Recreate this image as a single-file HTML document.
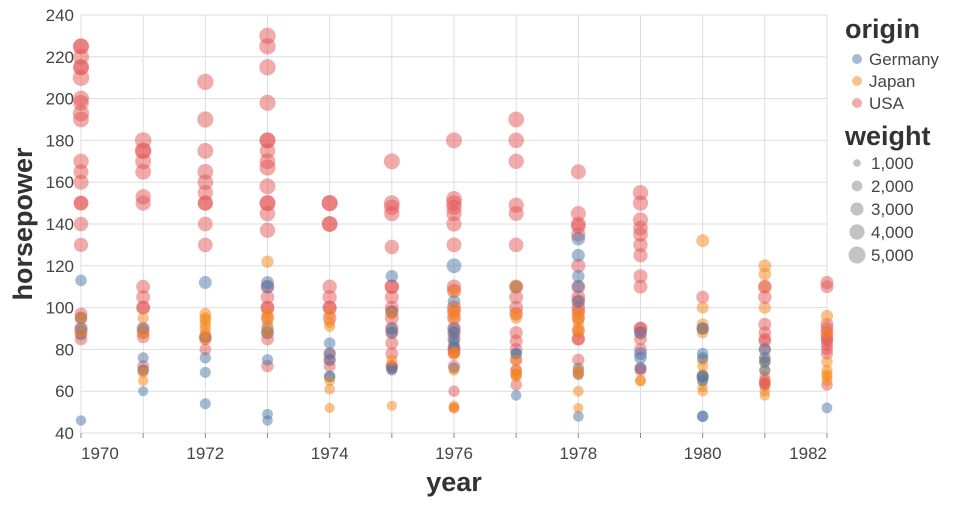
<!DOCTYPE html>
<html><head><meta charset="utf-8"><style>
body{margin:0;background:#fff;width:960px;height:500px;overflow:hidden;font-family:"Liberation Sans",sans-serif}
</style></head><body>
<svg id="chart" width="960" height="500" xmlns="http://www.w3.org/2000/svg"></svg>
<script>
const years=[1970,1971,1972,1973,1974,1975,1976,1977,1978,1979,1980,1981,1982];
const yTicks=[40,60,80,100,120,140,160,180,200,220,240];
const xLabelYears=[1970,1972,1974,1976,1978,1980,1982];
const origins=["Germany","Japan","USA"];
const legendWeights=[1000,2000,3000,4000,5000];
// rows: year|origin|hp:weight ...
const rows=[
"1970|USA|225:4400 225:4300 220:4500 215:4400 215:4300 210:4700 200:4400 198:4300 193:4600 190:4300 170:4100 165:3900 160:4000 150:3800 150:3700 140:3600 130:3500 97:2800 95:2900 90:3200 88:3000 85:2800",
"1970|Germany|113:2300 95:2400 90:2300 87:2200 46:1900",
"1970|Japan|95:2300 88:2200",
"1971|USA|180:4700 175:4600 175:4500 170:4400 165:4300 153:4100 150:4000 110:3300 105:3400 100:3300 100:3200 90:3000 88:2900 86:2800 72:2400 70:2300",
"1971|Germany|90:2300 76:2100 70:2200 60:1800",
"1971|Japan|95:2200 88:2100 69:2100 65:1900",
"1972|USA|208:4600 190:4500 175:4400 165:4300 160:4200 155:4100 150:4000 150:3900 140:3800 130:3700 86:2800 85:2700 80:2400",
"1972|Germany|112:2900 86:2400 76:2200 69:2100 54:2100",
"1972|Japan|97:2400 95:2300 94:2300 92:2200 90:2200 88:2100 85:2100",
"1973|USA|230:4600 225:4700 215:4600 198:4500 180:4400 180:4300 175:4200 170:4300 167:4500 158:4400 150:4400 150:4300 145:4200 137:4000 110:3300 105:3200 100:3300 100:3200 95:3000 88:2900 85:2800 72:2700",
"1973|Germany|112:2900 110:2800 90:2700 88:2600 75:2200 49:2000 46:1900",
"1973|Japan|122:2600 97:2400 95:2300 92:2300 88:2200",
"1974|USA|150:4500 150:4400 140:4300 140:4200 110:3600 105:3500 100:3400 100:3300 95:3200 78:2800 75:2600 72:2500",
"1974|Germany|83:2300 78:2200 75:2400 67:2300 67:2200",
"1974|Japan|97:2300 93:2200 91:2100 65:2000 61:2000 52:1800",
"1975|USA|170:4400 150:4300 148:4200 145:4100 129:3600 110:3600 110:3500 105:3400 100:3300 98:3200 95:3300 90:3200 88:3000 83:2900 78:2800 72:2600 72:2500 71:2500",
"1975|Germany|115:2700 98:2500 90:2400 88:2300 71:2100 70:2000",
"1975|Japan|97:2200 75:2100 53:1800",
"1976|USA|180:4400 152:4300 150:4200 148:4100 145:4100 140:4000 130:3800 110:3600 108:3500 100:3400 98:3300 95:3300 90:3200 88:3100 85:3000 81:2900 80:2800 79:2800 78:2700 72:2600 60:2200 52:2000",
"1976|Germany|120:3800 103:2800 90:2600 88:2400 85:2300 83:2200 81:2200 71:2100",
"1976|Japan|108:2600 100:2500 97:2400 95:2300 79:2200 78:2100 70:2000 53:1900 52:1800",
"1977|USA|190:4300 180:4200 170:4100 149:4000 145:3900 130:3700 110:3500 105:3400 100:3300 97:3200 88:3000 84:2900 80:2800 75:2700 70:2500 68:2400 63:2300",
"1977|Germany|110:2700 78:2300 78:2200 58:1900",
"1977|Japan|110:2700 97:2400 95:2300 75:2200 70:2100 68:2000 67:2000",
"1978|USA|165:3900 145:3900 140:3800 139:3700 135:3600 120:3500 110:3400 105:3400 103:3300 100:3300 98:3200 95:3100 89:3000 85:3000 85:2900 75:2600 69:2400",
"1978|Germany|133:3200 125:2900 115:2700 110:2600 103:2600 71:2200 68:2100 48:2000",
"1978|Japan|97:2500 95:2400 93:2300 90:2200 88:2200 70:2100 68:2000 60:2000 52:1800",
"1979|USA|155:4100 150:4000 142:3900 138:3800 135:3700 130:3600 125:3500 115:3400 110:3300 90:3200 90:3100 88:3000 85:2900 80:2800 71:2600 70:2500",
"1979|Germany|88:2700 78:2900 76:2700 71:2300",
"1979|Japan|65:2100 65:2000",
"1980|USA|105:2800 90:2700",
"1980|Japan|132:2900 100:2400 92:2400 90:2300 88:2300 75:2200 72:2100 68:2100 67:2000 65:2000 62:1900 60:1900",
"1980|Germany|90:2600 78:2300 76:2200 67:2700 67:2500 65:2200 48:2300 48:2100",
"1981|Japan|120:2900 116:2800 110:2700 100:2600 75:2300 74:2200 70:2100 67:2000 63:2000 60:1900 58:1900",
"1981|USA|110:3300 105:3200 92:2900 88:2800 85:2700 84:2800 80:2600 65:2500 64:2400 63:2300",
"1981|Germany|80:2600 76:2400 74:2300 70:2200",
"1982|USA|112:3000 110:2900 92:2900 90:2800 88:2800 86:2700 85:2700 84:2600 82:2600 80:2500 78:2500 63:2300",
"1982|Japan|96:2600 88:2400 74:2300 70:2200 68:2100 67:2100 65:2000",
"1982|Germany|52:2000"
];
const colors={Germany:"#4c78a8",Japan:"#f58518",USA:"#e45756"};
const svg=document.getElementById("chart");
const NS="http://www.w3.org/2000/svg";
const L=81,R=827,T=15,B=433;
const x=y=>L+(y-1970)/(1982-1970)*(R-L);
const yS=v=>B-(v-40)/(240-40)*(B-T);
const rS=w=>8.5*Math.sqrt(w/5000);
function mk(tag,attrs,parent){const e=document.createElementNS(NS,tag);for(const k in attrs)e.setAttribute(k,attrs[k]);(parent||svg).appendChild(e);return e;}
const grid=mk("g",{});


yTicks.forEach(t=>{const l=mk("line",{x1:L,x2:R,y1:yS(t),y2:yS(t),stroke:"#ddd","stroke-width":1},grid);


const tx=mk("text",{x:L-7,y:yS(t)+6,"text-anchor":"end","font-size":17,fill:"#444"});


tx.textContent=t;});
years.forEach(yr=>{const l=mk("line",{x1:x(yr),x2:x(yr),y1:T,y2:B,stroke:"#ddd","stroke-width":1},grid);


const tk=mk("line",{x1:x(yr),x2:x(yr),y1:B,y2:B+5,stroke:"#888"});

});
xLabelYears.forEach((yr,i)=>{const anchor=i===0?"start":(i===xLabelYears.length-1?"end":"middle");
const tx=mk("text",{x:x(yr),y:B+26,"text-anchor":anchor,"font-size":17,fill:"#444"});


tx.textContent=yr;});
const pts=mk("g",{});


rows.forEach(row=>{const [yr,org,vals]=row.split("|");vals.split(" ").forEach(p=>{const [hp,w]=p.split(":").map(Number);
const c=mk("circle",{cx:x(+yr),cy:yS(hp),r:rS(w),fill:colors[org],"fill-opacity":0.5},pts);

});});
const yt=mk("text",{x:0,y:0,transform:`translate(32,${(T+B)/2}) rotate(-90)`,"text-anchor":"middle","font-size":27,"font-weight":"bold",fill:"#333"});


yt.textContent="horsepower";
const xt=mk("text",{x:(L+R)/2,y:491,"text-anchor":"middle","font-size":27,"font-weight":"bold",fill:"#333"});


xt.textContent="year";
const lt=mk("text",{x:845,y:38,"font-size":27,"font-weight":"bold",fill:"#333"});


lt.textContent="origin";
origins.forEach((o,i)=>{const yy=59+i*22;
const c=mk("circle",{cx:857,cy:yy,r:5,fill:colors[o],"fill-opacity":0.5});


const t=mk("text",{x:869,y:yy+6,"font-size":17,fill:"#444"});


t.textContent=o;});
const st=mk("text",{x:845,y:145,"font-size":27,"font-weight":"bold",fill:"#333"});


st.textContent="weight";
legendWeights.forEach((w,i)=>{const yy=163+i*23;
const c=mk("circle",{cx:857,cy:yy,r:rS(w),fill:"#888","fill-opacity":0.5});


const t=mk("text",{x:871,y:yy+6,"font-size":17,fill:"#444"});


t.textContent=w.toLocaleString("en-US");});
</script>
</body></html>
